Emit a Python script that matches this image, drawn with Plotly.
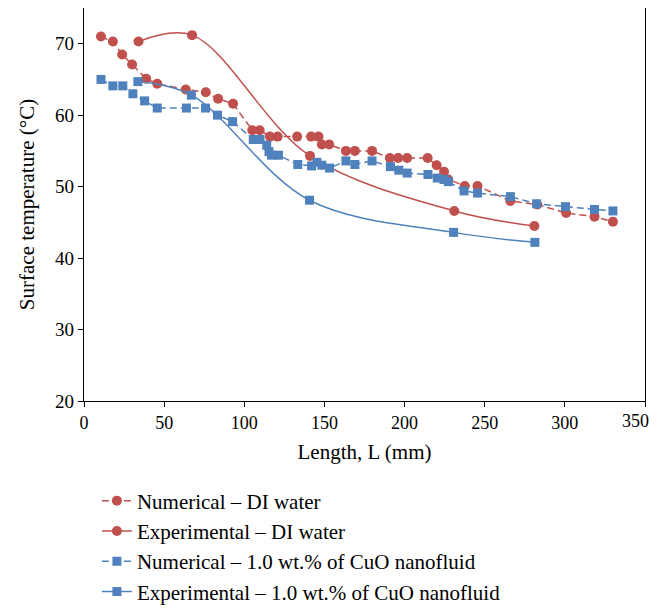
import plotly.graph_objects as go

# Numerical - DI water
num_di_x = [10.6, 18, 23.8, 30, 38.8, 45.7, 63.5, 76, 83.7, 93, 105, 109.6, 116, 120.8,
            133, 141.7, 146.3, 148.4, 153, 163.4, 169, 179.7, 190.8, 196, 201.6, 214.4,
            220, 224.6, 227.3, 237.5, 245.5, 266, 282.8, 300.8, 318.5, 330]
num_di_y = [71.0, 70.3, 68.5, 67.1, 65.1, 64.4, 63.6, 63.2, 62.3, 61.6, 57.9, 57.9, 57.0, 57.0,
            57.0, 57.0, 57.0, 55.9, 55.9, 55.0, 55.0, 55.0, 54.0, 54.0, 54.0, 54.0,
            53.0, 52.1, 51.0, 50.1, 50.1, 48.0, 47.5, 46.3, 45.8, 45.1]

# Experimental - DI water
exp_di_x = [34, 67.4, 141, 231, 281]
exp_di_y = [70.3, 71.2, 54.3, 46.6, 44.5]

# Numerical - CuO nanofluid
num_cuo_x = [10.6, 18, 24.2, 30.5, 37.8, 45.7, 63.9, 75.8, 83.3, 92.7, 105.6, 109.8, 114,
             115.4, 117, 121.3, 133.4, 142, 145.3, 148.4, 153.2, 163.4, 169, 179.7, 191.2,
             196.4, 201.6, 214.6, 220.4, 224.6, 227.3, 237.1, 245.5, 266, 282.4, 300.4,
             318.5, 330]
num_cuo_y = [65.0, 64.1, 64.1, 63.0, 62.0, 61.0, 61.0, 61.0, 60.0, 59.1, 56.6, 56.6, 55.8,
             54.9, 54.4, 54.4, 53.1, 52.9, 53.4, 53.0, 52.6, 53.6, 53.1, 53.6, 52.8,
             52.3, 51.9, 51.7, 51.2, 51.0, 50.7, 49.4, 49.1, 48.6, 47.6, 47.2,
             46.8, 46.6]

# Experimental - CuO nanofluid
exp_cuo_x = [33.6, 67, 140.7, 230.6, 281.3]
exp_cuo_y = [64.7, 62.8, 48.1, 43.6, 42.2]

# x tick labels (the last one is drawn separately so it stays inside the page)
x_tick_vals = [0, 50, 100, 150, 200, 250, 300, 350]
x_tick_text = ["0", "50", "100", "150", "200", "250", "300", ""]
last_x_tick_val = 350
last_x_tick_text = "350"

RED = "#C0504D"
BLUE = "#4F81BD"
FONT = "Liberation Serif"

fig = go.Figure()
fig.add_trace(go.Scatter(
    x=num_di_x, y=num_di_y, mode="lines+markers", name="Numerical – DI water",
    legendgroup="a",
    line=dict(color=RED, width=1.5, dash="7px,4px"),
    marker=dict(symbol="circle", size=10, color=RED)))
fig.add_trace(go.Scatter(
    x=exp_di_x, y=exp_di_y, mode="lines+markers", name="Experimental – DI water",
    legendgroup="b",
    line=dict(color=RED, width=1.5, shape="spline", smoothing=1.0),
    marker=dict(symbol="circle", size=10, color=RED)))
fig.add_trace(go.Scatter(
    x=num_cuo_x, y=num_cuo_y, mode="lines+markers", name="Numerical – 1.0 wt.% of CuO nanofluid",
    legendgroup="c",
    line=dict(color=BLUE, width=1.5, dash="7px,4px"),
    marker=dict(symbol="square", size=9, color=BLUE)))
fig.add_trace(go.Scatter(
    x=exp_cuo_x, y=exp_cuo_y, mode="lines+markers", name="Experimental – 1.0 wt.% of CuO nanofluid",
    legendgroup="d",
    line=dict(color=BLUE, width=1.5, shape="spline", smoothing=1.0),
    marker=dict(symbol="square", size=9, color=BLUE)))

axis_common = dict(showline=True, linecolor="black", linewidth=1.2, mirror=True,
                   ticks="outside", ticklen=5, tickcolor="black", showgrid=False,
                   zeroline=False, automargin=False, ticklabeloverflow="allow")

fig.update_layout(
    width=651, height=598,
    margin=dict(l=76, r=14, t=0, b=204.5, autoexpand=False),
    plot_bgcolor="white", paper_bgcolor="white",
    font=dict(family=FONT, color="black", size=18),
    xaxis=dict(range=[0, 350], tickmode="array", tickvals=x_tick_vals, ticktext=x_tick_text,
               tickfont=dict(family=FONT, size=18, color="black"),
               title=dict(text="Length, L (mm)", font=dict(family=FONT, size=21), standoff=12),
               **axis_common),
    yaxis=dict(range=[20, 75], dtick=10, tick0=20,
               tickfont=dict(family=FONT, size=19, color="black"),
               title=dict(text="Surface temperature (°C)", font=dict(family=FONT, size=21), standoff=14),
               **axis_common),
    showlegend=True,
    legend=dict(x=0.023, xanchor="left", y=-0.2023, yanchor="top",
                font=dict(family=FONT, size=21, color="black"),
                bgcolor="rgba(0,0,0,0)", tracegroupgap=0, itemwidth=30),
)

fig.add_annotation(x=last_x_tick_val, xref="x", y=0, yref="paper",
                   text=last_x_tick_text, showarrow=False,
                   xanchor="right", yanchor="top", xshift=6, yshift=-8,
                   font=dict(family=FONT, size=18, color="black"))

fig.write_html("out.html")
